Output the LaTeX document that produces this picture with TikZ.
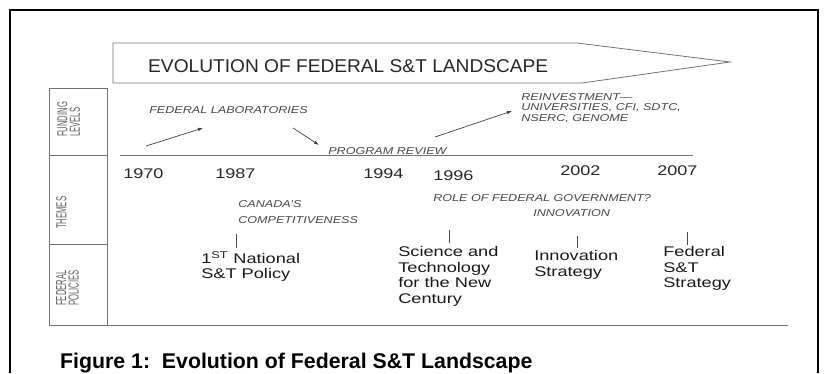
\documentclass[tikz,border=0pt]{standalone}
\usepackage{graphicx}
\usepackage{fontspec}
\setmainfont{Liberation Sans}
\usetikzlibrary{arrows.meta}
% condensed text for the rotated row headings
\newcommand{\nar}[1]{\scalebox{0.53}[1]{#1}}
\begin{document}
\begin{tikzpicture}[x=1pt,y=-1pt,
  txt/.style={inner sep=0pt, anchor=base west, text=black!85},
  banner/.style={txt, font=\fontsize{18.5}{20}\selectfont, xscale=1.035},
  yearlbl/.style={txt, font=\fontsize{14}{16}\selectfont, xscale=1.29},
  theme/.style={txt, font=\fontsize{10}{16}\selectfont\itshape, xscale=1.26, text=black!72},
  multitheme/.style={theme, anchor=north west, align=left, font=\fontsize{10}{10.5}\selectfont\itshape},
  policy/.style={inner sep=0pt, anchor=north west, align=left,
    font=\fontsize{14}{15.7}\selectfont, xscale=1.3, text=black!90},
  rowlbl/.style={inner sep=0pt, anchor=north west, rotate=90, align=left,
    font=\fontsize{14.5}{12.5}\selectfont, text=black!62},
  rule/.style={draw=black!55, line width=0.8pt},
  flow/.style={draw=black!75, line width=0.7pt, -{Latex[length=5pt,width=3.5pt]}},
  tick/.style={draw=black!70, line width=0.7pt},
]
\useasboundingbox (0,0) rectangle (825,373);

% outer frame, open at the bottom edge
\draw[line width=2pt] (10,373) -- (10,10) -- (818,10) -- (818,373);

% banner arrow with title
\draw[rule] (113,43) -- (577,43) -- (730,62) -- (582,83) -- (113,83) -- cycle;
\node[banner] (title) at (148,72) {EVOLUTION OF FEDERAL S\&T LANDSCAPE};

% row heading column and the table base line
\draw[rule] (107,88) -- (49,88) -- (49,325) -- (788,325);
\draw[rule] (107,88) -- (107,325);
\draw[rule] (49,155) -- (107,155);
\draw[rule] (49,244) -- (107,244);
\node[rowlbl] (lblfund) at (57,137) {\nar{FUNDING}\\\nar{LEVELS}};
\node[rowlbl] (lblthm) at (56,229) {\nar{THEMES}};
\node[rowlbl] (lblpol) at (56,306) {\nar{FEDERAL}\\\nar{POLICIES}};

% time line
\draw[rule] (120,155) -- (693,155);
\node[yearlbl] (y1970) at (123,178) {1970};
\node[yearlbl] (y1987) at (215,178) {1987};
\node[yearlbl] (y1994) at (363,178) {1994};
\node[yearlbl] (y1996) at (433,180) {1996};
\node[yearlbl] (y2002) at (560,175) {2002};
\node[yearlbl] (y2007) at (657,175) {2007};

% funding levels
\node[theme] (labs) at (149,113) {FEDERAL LABORATORIES};
\node[theme] (review) at (328,154) {PROGRAM REVIEW};
\node[multitheme] (reinv) at (521,93) {REINVESTMENT—\\UNIVERSITIES, CFI, SDTC,\\NSERC, GENOME};
\coordinate (a1s) at (146,146);
\coordinate (a1e) at (203,128);
\coordinate (a2s) at (293,128);
\coordinate (a2e) at (319,145);
\coordinate (a3s) at (435,137);
\coordinate (a3e) at (512,111);
\draw[flow] (a1s) -- (a1e);
\draw[flow] (a2s) -- (a2e);
\draw[flow] (a3s) -- (a3e);

% themes
\node[theme] (canada) at (238,207) {CANADA'S};
\node[theme] (compet) at (238,223) {COMPETITIVENESS};
\node[theme] (role) at (433,201) {ROLE OF FEDERAL GOVERNMENT?};
\node[theme] (innov) at (533,216) {INNOVATION};

% federal policies
\node[policy] (p1987) at (201,251) {1\textsuperscript{ST} National\\S\&T Policy};
\node[policy] (p1996) at (398,246) {Science and\\Technology\\for the New\\Century};
\node[policy] (p2002) at (534,250) {Innovation\\Strategy};
\node[policy] (p2007) at (663,246) {Federal\\S\&T\\Strategy};
\coordinate (t1a) at (236,234);
\coordinate (t1b) at (236,248);
\coordinate (t2a) at (449,230);
\coordinate (t2b) at (449,243);
\coordinate (t3a) at (577,236);
\coordinate (t3b) at (577,248);
\coordinate (t4a) at (687,232);
\coordinate (t4b) at (687,245);
\draw[tick] (t1a) -- (t1b);
\draw[tick] (t2a) -- (t2b);
\draw[tick] (t3a) -- (t3b);
\draw[tick] (t4a) -- (t4b);

% caption
\node[inner sep=0pt, anchor=base west, font=\bfseries\fontsize{21.3}{24}\selectfont] (caption)
  at (60,368) {Figure 1:\ \ Evolution of Federal S\&T Landscape};
\end{tikzpicture}
\end{document}
